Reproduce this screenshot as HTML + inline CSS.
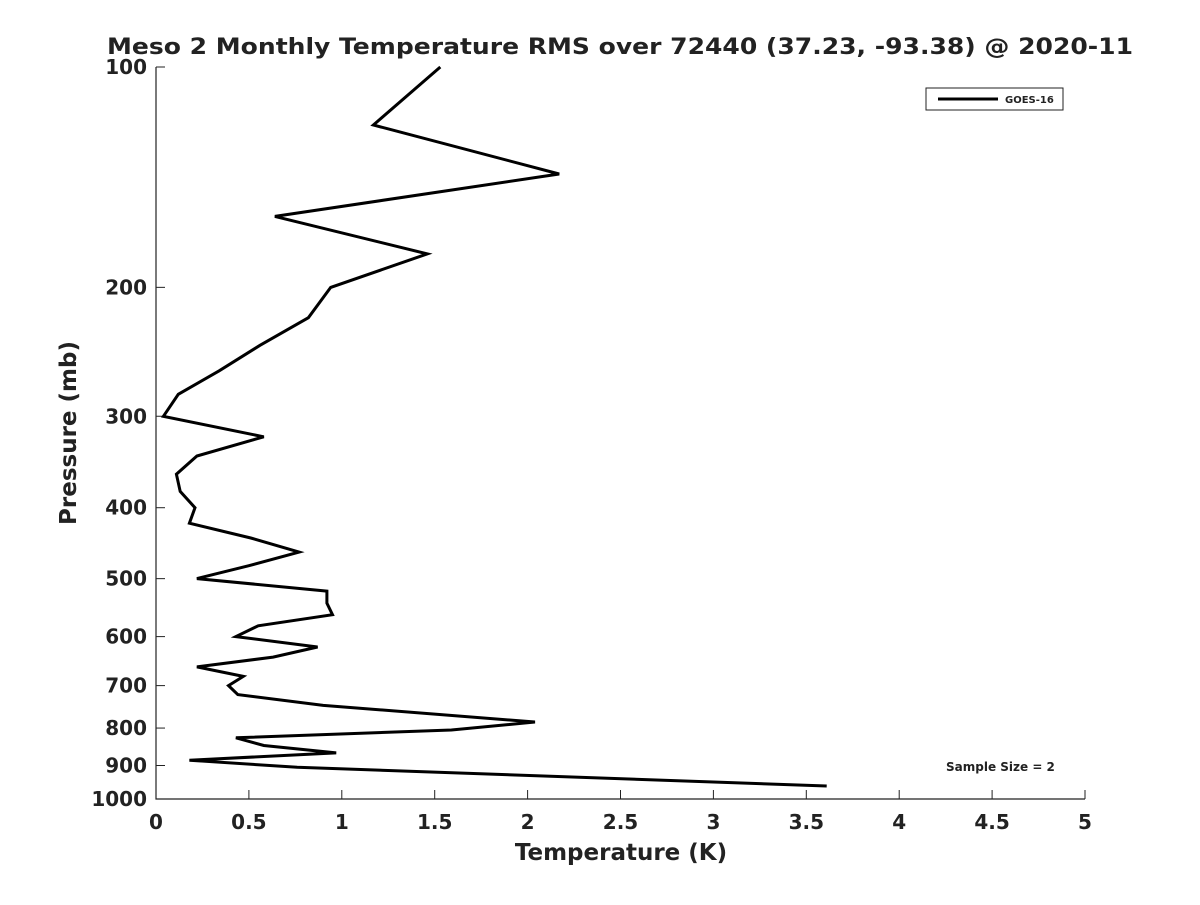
<!DOCTYPE html>
<html><head><meta charset="utf-8"><style>
body{margin:0;background:#fff;}
svg text{font-family:"DejaVu Sans","Liberation Sans",sans-serif;font-weight:bold;fill:#222;}
</style></head><body>
<svg id="chart" width="1200" height="900" xmlns="http://www.w3.org/2000/svg">
<rect width="1200" height="900" fill="#fff"/>
<text x="620" y="54" font-size="22" text-anchor="middle" fill="#000" textLength="1026" lengthAdjust="spacingAndGlyphs">Meso 2 Monthly Temperature RMS over 72440 (37.23, -93.38) @ 2020-11</text>
<g id="axes"></g>
<g id="series"></g>
<g>
<rect x="926" y="88" width="137" height="22" fill="#fff" stroke="#222" stroke-width="1"/>
<line x1="938" y1="99" x2="998" y2="99" stroke="#000" stroke-width="3"/>
<text x="1005" y="103" font-size="10">GOES-16</text>
</g>
<text x="946" y="771" font-size="12" fill="#000">Sample Size = 2</text>
<text x="621" y="860" font-size="23" text-anchor="middle">Temperature (K)</text>
<text transform="translate(76,433) rotate(-90)" font-size="23" text-anchor="middle">Pressure (mb)</text>
</svg>
<script>
const xTicks=[0,0.5,1,1.5,2,2.5,3,3.5,4,4.5,5];
const yTicks=[100,200,300,400,500,600,700,800,900,1000];
const pressure=[100,120,140,160,180,200,220,240,260,280,300,320,340,360,380,400,420,440,460,480,500,520,540,560,580,600,620,640,660,680,700,720,745,785,805,825,845,865,885,905,960];
const temperature=[1.53,1.17,2.17,0.64,1.46,0.94,0.82,0.56,0.34,0.12,0.04,0.58,0.22,0.11,0.13,0.21,0.18,0.51,0.77,0.50,0.22,0.92,0.92,0.95,0.55,0.43,0.87,0.63,0.22,0.47,0.39,0.44,0.90,2.04,1.59,0.43,0.58,0.97,0.18,0.76,3.61];
const X0=156,X1=1085,Y0=67,Y1=799;
function sx(t){return X0+(t-0)/(5-0)*(X1-X0);}
function sy(p){return Y0+Math.log10(p/100)*(Y1-Y0);}
const NS="http://www.w3.org/2000/svg";
const axes=document.getElementById('axes');
function mk(tag,attrs,parent){const e=document.createElementNS(NS,tag);for(const k in attrs)e.setAttribute(k,attrs[k]);parent.appendChild(e);return e;}
const ax=mk('path',{d:`M${X0},${Y0}V${Y1}H${X1}`,fill:'none',stroke:'#222','stroke-width':1.2},axes);


xTicks.forEach(t=>{
  const x=sx(t);
  const l=mk('line',{x1:x,y1:Y1,x2:x,y2:Y1-9,stroke:'#222','stroke-width':1},axes);
  
  
  const tx=mk('text',{x:x,y:Y1+30,'font-size':20,'text-anchor':'middle'},axes);
  tx.textContent=String(t);
  
  
});
yTicks.forEach(p=>{
  const y=sy(p);
  const l=mk('line',{x1:X0,y1:y,x2:X0+9,y2:y,stroke:'#222','stroke-width':1},axes);
  
  
  const tx=mk('text',{x:X0-9,y:y+7,'font-size':20,'text-anchor':'end'},axes);
  tx.textContent=String(p);
  
  
});
const pts=pressure.map((p,i)=>sx(temperature[i]).toFixed(1)+','+sy(p).toFixed(1)).join(' ');
const line=mk('polyline',{points:pts,fill:'none',stroke:'#000','stroke-width':3,'stroke-linejoin':'miter'},document.getElementById('series'));


</script>
</body></html>
